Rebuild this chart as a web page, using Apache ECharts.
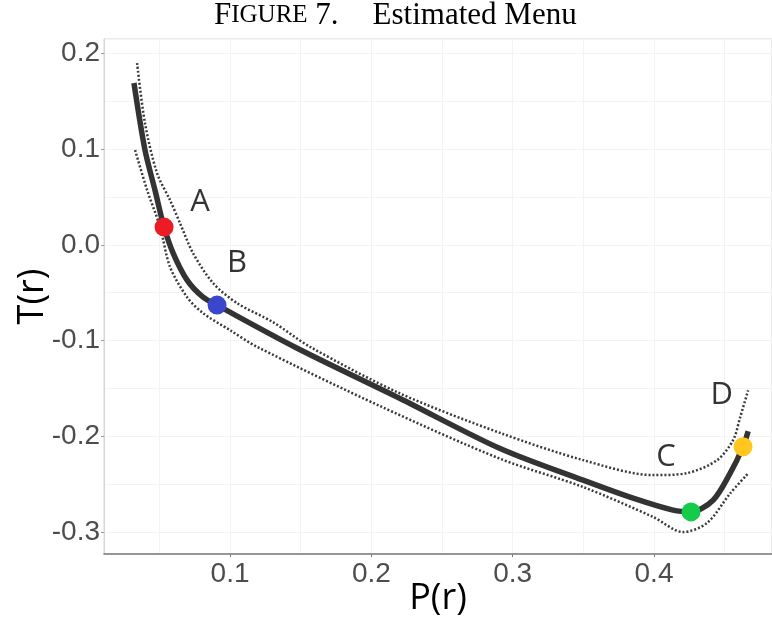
<!DOCTYPE html>
<html>
<head>
<meta charset="utf-8">
<script src="https://cdn.jsdelivr.net/npm/echarts@6/dist/echarts.min.js"></script>
<style>html,body{margin:0;padding:0;background:#fff}#c{width:772px;height:620px}</style>
</head>
<body>
<div id="c"></div>
<script>
// Estimated menu (thick line)
const mainP = [0.032, 0.0398, 0.0469, 0.0533, 0.0597, 0.0696, 0.0809, 0.0908, 0.1475, 0.2203, 0.2911, 0.3498, 0.3852, 0.4135, 0.4262, 0.4418, 0.4539, 0.4630, 0.4666];
const mainT = [0.169, 0.099, 0.057, 0.0185, -0.0087, -0.0369, -0.0547, -0.063, -0.108, -0.1605, -0.2128, -0.2459, -0.2647, -0.2772, -0.279, -0.2668, -0.2386, -0.211, -0.1947];
// Upper confidence band (dotted)
const upperP = [0.0342, 0.0398, 0.0483, 0.0575, 0.0646, 0.0738, 0.088, 0.105, 0.1304, 0.1566, 0.2203, 0.2911, 0.3498, 0.3994, 0.4234, 0.4447, 0.456, 0.461, 0.4666];
const upperT = [0.1899, 0.127, 0.075, 0.0467, 0.0226, -0.0087, -0.040, -0.061, -0.0808, -0.1066, -0.1553, -0.1965, -0.2249, -0.2406, -0.2385, -0.2249, -0.204, -0.180, -0.152];
// Lower confidence band (dotted)
const lowerP = [0.0328, 0.0413, 0.0505, 0.0575, 0.0696, 0.0809, 0.1, 0.1191, 0.2062, 0.2911, 0.3498, 0.3994, 0.4206, 0.4376, 0.4539, 0.4666];
const lowerT = [0.099, 0.0572, 0.0185, -0.023, -0.0547, -0.0714, -0.0892, -0.1066, -0.1685, -0.2235, -0.253, -0.2843, -0.3001, -0.2905, -0.2597, -0.2388];
// Highlighted points
const pointP = [0.0533, 0.0908, 0.4262, 0.463];
const pointT = [0.0185, -0.063, -0.279, -0.211];
const pointColors = ['#EC1C24', '#3A46CC', '#14CC48', '#FFC61E'];
// Point labels
const labelText = ['A', 'B', 'C', 'D'];
const labelP = [0.0788, 0.105, 0.4085, 0.448];
const labelT = [0.0446, -0.019, -0.2218, -0.157];
// Axis ranges
const xRange = [0.0108, 0.4835];
const yRange = [-0.323, 0.215];

const zip = (a, b) => a.map((v, i) => [v, b[i]]);
const fmt = v => v.toFixed(1);
const chart = echarts.init(document.getElementById('c'), null, {renderer: 'canvas'});
const tickFont = {fontFamily: 'Liberation Sans', fontSize: 28, color: '#4D4D4D'};
const nameFont = {fontFamily: 'Open Sans', fontSize: 36, color: '#000'};

chart.setOption({
  animation: false,
  backgroundColor: '#fff',
  title: {
    text: '{b|F}{s|IGURE}{b| 7.}{sp| }{b|Estimated Menu}',
    left: 209, top: -5,
    textStyle: {
      fontWeight: 'normal',
      rich: {
        b: {fontFamily: 'Liberation Serif', fontSize: 31, fontWeight: 'normal', color: '#000'},
        s: {fontFamily: 'Liberation Serif', fontSize: 25, fontWeight: 'normal', color: '#000'},
        sp: {fontFamily: 'Liberation Serif', fontSize: 31, width: 34}
      }
    }
  },
  grid: {left: 104, right: 0, top: 39, bottom: 66, outerBoundsMode: 'none', containLabel: false,
         show: true, borderColor: '#d6d6d6', borderWidth: 1},
  xAxis: [{
    type: 'value', min: xRange[0], max: xRange[1], splitNumber: 5,
    name: 'P(r)', nameLocation: 'middle', nameGap: 27, nameMoveOverlap: false, nameTextStyle: nameFont,
    axisLine: {show: true, onZero: false, lineStyle: {color: '#7a7a7a', width: 1.5}},
    axisTick: {show: true, length: 3, lineStyle: {color: '#7a7a7a'}},
    axisLabel: Object.assign({showMinLabel: false, showMaxLabel: false, margin: 6, formatter: fmt}, tickFont),
    splitLine: {show: true, lineStyle: {color: '#ebebeb', width: 1}}
  }, {
    type: 'value', min: xRange[0], max: xRange[1], splitNumber: 10, position: 'top',
    axisLine: {show: false}, axisTick: {show: false}, axisLabel: {show: false},
    splitLine: {show: true, lineStyle: {color: '#f3f3f3', width: 1}}
  }],
  yAxis: [{
    type: 'value', min: yRange[0], max: yRange[1], splitNumber: 5,
    name: 'T(r)', nameLocation: 'middle', nameGap: 53, nameMoveOverlap: false, nameTextStyle: nameFont,
    axisLine: {show: true, onZero: false, lineStyle: {color: '#d6d6d6', width: 1}},
    axisTick: {show: true, length: 3, lineStyle: {color: '#9a9a9a'}},
    axisLabel: Object.assign({showMinLabel: false, showMaxLabel: false, margin: 4, formatter: fmt}, tickFont),
    splitLine: {show: true, lineStyle: {color: '#ebebeb', width: 1}}
  }, {
    type: 'value', min: yRange[0], max: yRange[1], splitNumber: 10, position: 'right',
    axisLine: {show: false}, axisTick: {show: false}, axisLabel: {show: false},
    splitLine: {show: true, lineStyle: {color: '#f3f3f3', width: 1}}
  }],
  series: [
    {type: 'line', data: zip(upperP, upperT), smooth: 0.3, showSymbol: false, z: 3,
     lineStyle: {color: '#3a3a3a', width: 2.5, type: [2, 2]}},
    {type: 'line', data: zip(lowerP, lowerT), smooth: 0.3, showSymbol: false, z: 3,
     lineStyle: {color: '#3a3a3a', width: 2.5, type: [2, 2]}},
    {type: 'line', data: zip(mainP, mainT), smooth: 0.3, showSymbol: false, z: 4,
     lineStyle: {color: '#333333', width: 5.5}},
    {type: 'scatter', z: 5, symbolSize: 19,
     data: pointP.map((p, i) => ({value: [p, pointT[i]], itemStyle: {color: pointColors[i], opacity: 1}}))},
    {type: 'scatter', z: 6, symbolSize: 0, silent: true,
     data: labelP.map((p, i) => ({value: [p, labelT[i]], name: labelText[i]})),
     label: {show: true, position: 'inside', formatter: '{b}', fontFamily: 'Open Sans', fontSize: 31, color: '#000'}}
  ]
});
</script>
</body>
</html>
